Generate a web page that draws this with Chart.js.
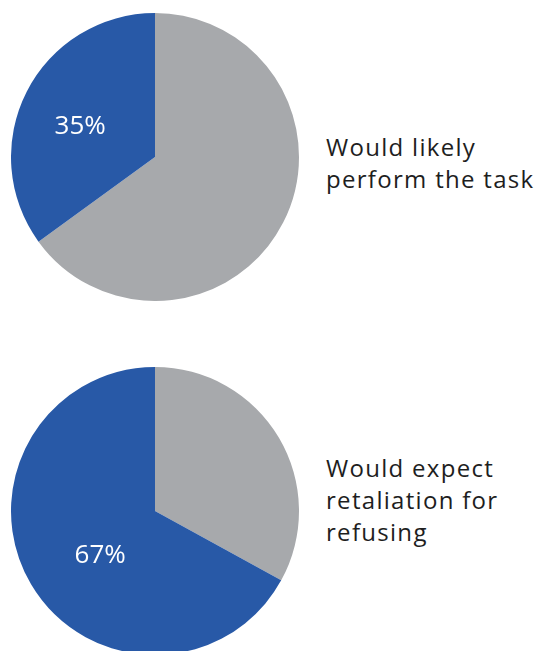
<!DOCTYPE html>
<html>
<head>
<meta charset="utf-8">
<script src="https://cdn.jsdelivr.net/npm/chart.js@4/dist/chart.umd.min.js"></script>
<style>
  html, body { margin: 0; padding: 0; background: #fff; width: 538px; height: 651px; overflow: hidden; }
  .pie { position: absolute; left: 11px; width: 288px; height: 288px; }
  #pieTop { top: 13px; }
  #pieBottom { top: 367px; }
  .caption {
    position: absolute; left: 326px; margin: 0;
    font-family: "Open Sans", sans-serif; font-size: 24px; line-height: 32px;
    letter-spacing: 1.3px; color: #1e1e1e;
  }
  #capTop { top: 131px; }
  #capBottom { top: 452px; }
</style>
</head>
<body>
<canvas id="pieTop" class="pie" width="288" height="288"></canvas>
<canvas id="pieBottom" class="pie" width="288" height="288"></canvas>
<p id="capTop" class="caption">Would likely<br>perform the task</p>
<p id="capBottom" class="caption">Would expect<br>retaliation for<br>refusing</p>
<script>
const GRAY = "#a7a9ac";
const BLUE = "#2859a7";

const slices = ["Other", "Yes"];
const performTask = [65, 35];
const expectRetaliation = [33, 67];

// writes the "Yes" share inside the blue slice
const pctLabel = {
  id: "pctLabel",
  afterDatasetsDraw(chart, args, opts) {
    const arc = chart.getDatasetMeta(0).data[1];
    const value = chart.data.datasets[0].data[1];
    const a = (opts.angle - 90) * Math.PI / 180;
    const r = arc.outerRadius * opts.radius;
    const ctx = chart.ctx;
    ctx.save();
    ctx.fillStyle = "#fff";
    ctx.font = '26px "Open Sans", sans-serif';
    ctx.textAlign = "center";
    ctx.textBaseline = "middle";
    ctx.fillText(value + "%", arc.x + Math.cos(a) * r, arc.y + Math.sin(a) * r);
    ctx.restore();
  }
};

function makePie(id, values, labelAngle, labelRadius) {
  return new Chart(document.getElementById(id), {
    type: "pie",
    data: {
      labels: slices,
      datasets: [{ data: values, backgroundColor: [GRAY, BLUE], borderWidth: 0 }]
    },
    options: {
      responsive: false,
      animation: false,
      layout: { padding: 0 },
      plugins: {
        legend: { display: false },
        tooltip: { enabled: false },
        pctLabel: { angle: labelAngle, radius: labelRadius }
      }
    },
    plugins: [pctLabel]
  });
}

makePie("pieTop", performTask, 292, 0.56);
makePie("pieBottom", expectRetaliation, 231, 0.49);
</script>
</body>
</html>
